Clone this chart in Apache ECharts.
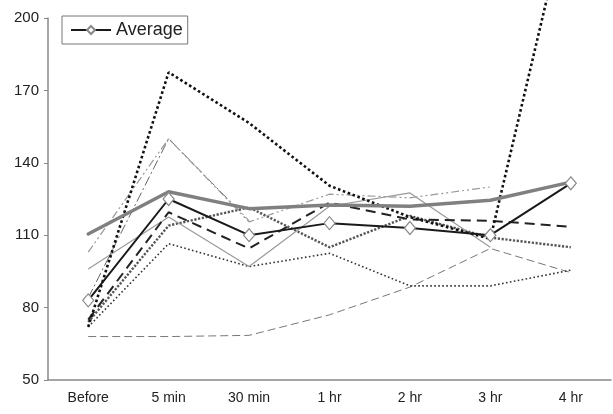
<!DOCTYPE html>
<html lang="en">
<head>
    <meta charset="UTF-8">
    <title>Chart</title>
    <script src="https://cdn.jsdelivr.net/npm/echarts@6/dist/echarts.min.js"></script>
    <style>
        html, body { margin: 0; padding: 0; background: #fff; }
    </style>
</head>
<body>
<div id="main" style="width: 613px;height:414px;"></div>

<script type="text/javascript">
    // categories and values
    var categories = ['Before', '5 min', '30 min', '1 hr', '2 hr', '3 hr', '4 hr'];
    var average    = [83, 125, 110, 115, 113, 110, 131.5];
    var thickGray  = [110.5, 128, 121, 122.5, 122, 124.5, 132];
    var bigDotted  = [72, 177.5, 156.5, 130.5, 117.5, 108.5, 250];
    var dashDotA   = [103, 150, 115.5, 127, 125.5, 130, null];
    var dashDotB   = [84, 150, 116, null, null, null, null];
    var blackDash  = [75, 119.5, 104.5, 123.5, 116.5, 116, 113.5];
    var thinGray   = [96, 117.5, 97, 122, 127.5, 105, null];
    var denseDot   = [74, 114, 121.5, 105, 118, 109, 105];
    var fineDot    = [72, 106.5, 97, 102.5, 89, 89, 95.5];
    var grayDash   = [68, 68, 68.5, 77, 88.5, 104.5, 94.5];

    function line(data, color, width, dash, cap, extra) {
        var s = {
            type: 'line',
            data: data,
            symbol: 'none',
            silent: true,
            z: 2,
            lineStyle: { color: color, width: width, type: dash, cap: cap }
        };
        for (var k in extra) s[k] = extra[k];
        return s;
    }

    var myChart = echarts.init(document.getElementById('main'));
    var option = {
        animation: false,
        textStyle: { fontFamily: '"Liberation Sans", Arial, sans-serif' },
        grid: { left: 48, right: 2, top: 18, bottom: 34 },
        legend: {
            left: 62,
            top: 16,
            data: [{ name: 'Average' }],
            padding: [5, 5, 5, 8],
            itemWidth: 40,
            itemHeight: 10,
            itemGap: 4,
            borderColor: '#777',
            borderWidth: 1,
            textStyle: { fontSize: 18, color: '#222' }
        },
        xAxis: {
            type: 'category',
            data: categories,
            boundaryGap: true,
            axisLine: { lineStyle: { color: '#888', width: 1.5 } },
            axisTick: { inside: true, length: 4, lineStyle: { color: '#888' } },
            axisLabel: { fontSize: 14, color: '#222', margin: 11 }
        },
        yAxis: {
            type: 'value',
            min: 50,
            max: 200,
            interval: 30,
            splitLine: { show: false },
            axisLine: { show: true, lineStyle: { color: '#888', width: 1.5 } },
            axisTick: { show: true, length: 4, lineStyle: { color: '#888' } },
            axisLabel: { fontSize: 15, color: '#222', margin: 9 }
        },
        series: [
            line(grayDash, '#777', 1, [8, 4], 'butt'),
            line(fineDot, '#333', 1.6, [1.6, 2.4], 'butt'),
            line(denseDot, '#555', 2.4, [2.2, 1.6], 'butt'),
            line(thinGray, '#9a9a9a', 1.2, 'solid', 'butt'),
            line(blackDash, '#222', 2, [10, 6], 'butt'),
            line(dashDotB, '#666', 1, [10, 3, 2, 3], 'butt'),
            line(dashDotA, '#999', 1.2, [8, 3, 2, 3, 2, 3], 'butt'),
            line(bigDotted, '#111', 2.6, [2.6, 2.6], 'butt', { clip: false }),
            line(thickGray, '#808080', 3.5, 'solid', 'round'),
            {
                name: 'Average',
                type: 'line',
                data: average,
                z: 5,
                symbol: 'diamond',
                symbolSize: [11, 13],
                itemStyle: { color: '#fff', borderColor: '#888', borderWidth: 1.2 },
                lineStyle: { color: '#1a1a1a', width: 2 }
            }
        ]
    };
    myChart.setOption(option);
</script>
</body>
</html>
